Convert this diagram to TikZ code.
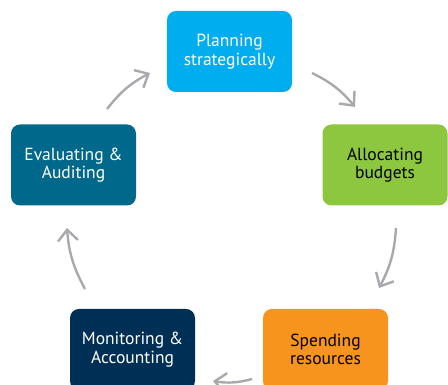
\documentclass[tikz,border=0pt]{standalone}
\usepackage{fontspec}
\setmainfont{PT Sans}
\usetikzlibrary{arrows.meta}
\definecolor{planblue}{RGB}{0,174,239}
\definecolor{allocgreen}{RGB}{141,198,63}
\definecolor{spendorange}{RGB}{247,148,29}
\definecolor{monnavy}{RGB}{0,47,86}
\definecolor{evalteal}{RGB}{0,104,139}
\definecolor{arrgray}{RGB}{167,169,172}

\begin{document}
\begin{tikzpicture}[
  x=1pt, y=1pt,
  box/.style={rounded corners=9pt, minimum width=125pt, minimum height=81pt,
    align=center, inner sep=0pt, font=\fontsize{17.5}{18.5}\selectfont},
  arr/.style={-{Straight Barb[length=11pt, width=20pt]}, line width=2.4pt,
    draw=arrgray, bend left=12}
]
  \useasboundingbox (0,0) rectangle (448,385);
  % the five stages
  \node[box, fill=planblue, text=white] (plan) at (229.5,333.5) {Planning\\strategically};
  \node[box, fill=allocgreen] (alloc) at (385,220) {Allocating\\budgets};
  \node[box, fill=spendorange] (spend) at (325.5,35.5) {Spending\\resources};
  \node[box, fill=monnavy, text=white] (mon) at (132.5,35.5) {Monitoring \&\\Accounting};
  \node[box, fill=evalteal, text=white] (eval) at (73.5,220) {Evaluating \&\\Auditing};
  % arrow ends
  \coordinate (e1) at (107,276);  \coordinate (p1) at (150,312);
  \coordinate (p2) at (312,312);  \coordinate (a1) at (355,278);
  \coordinate (a2) at (396,157);  \coordinate (s1) at (379,97);
  \coordinate (s2) at (252,6);    \coordinate (m1) at (213,4);
  \coordinate (m2) at (85,96);    \coordinate (e2) at (67,157);
  \draw[arr] (e1) to (p1);
  \draw[arr] (p2) to (a1);
  \draw[arr] (a2) to (s1);
  \draw[arr] (s2) to (m1);
  \draw[arr] (m2) to (e2);
\end{tikzpicture}
\end{document}
